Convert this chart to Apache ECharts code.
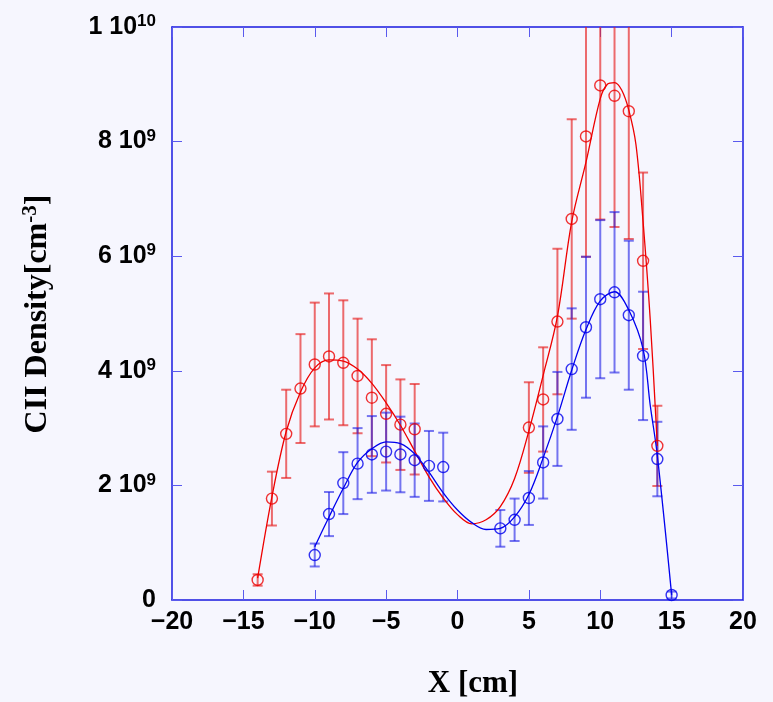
<!DOCTYPE html>
<html>
<head>
<meta charset="utf-8">
<script src="https://cdn.jsdelivr.net/npm/echarts@6/dist/echarts.min.js"></script>
<style>
html,body{margin:0;padding:0;background:#f6f6fe;}
#c{width:773px;height:702px;}
</style>
</head>
<body>
<div id="c"></div>
<script>
// Values in units of 1e9 cm^-3
var xTicks = [-20, -15, -10, -5, 0, 5, 10, 15, 20];
var yTicks = [0, 2, 4, 6, 8, 10];

var redX = [-14,-13,-12,-11,-10,-9,-8,-7,-6,-5,-4,-3, 5,6,7,8,9,10,11,12,13,14];
var redY = [0.35,1.77,2.90,3.69,4.11,4.25,4.14,3.91,3.53,3.25,3.06,2.98, 3.01,3.50,4.86,6.65,8.09,8.98,8.80,8.53,5.92,2.69];
var redErr = [0.10,0.47,0.77,0.95,1.08,1.10,1.09,1.00,1.02,0.85,0.79,0.79, 0.79,0.91,1.27,1.74,2.10,2.34,2.29,2.23,1.54,0.70];

var blueX = [-10,-9,-8,-7,-6,-5,-4,-3,-2,-1, 3,4,5,6,7,8,9,10,11,12,13,14,15];
var blueY = [0.785,1.50,2.04,2.38,2.54,2.59,2.54,2.44,2.34,2.32, 1.25,1.40,1.78,2.40,3.16,4.03,4.76,5.25,5.37,4.97,4.26,2.46,0.087];
var blueErr = [0.20,0.385,0.54,0.62,0.67,0.68,0.66,0.64,0.61,0.60, 0.32,0.37,0.47,0.63,0.82,1.06,1.23,1.38,1.40,1.30,1.12,0.65,0.06];

var redCurveX = [-14,-13,-12,-11,-10,-9,-8,-7,-6,-5,-4,-3,-2,-1,0,1,2,3,4,5,6,7,8,9,10,10.5,11,11.5,12,12.5,13,13.5,14];
var redCurveY = [0.38,1.80,2.94,3.63,4.05,4.19,4.17,4.03,3.78,3.44,3.05,2.60,2.15,1.78,1.49,1.33,1.40,1.63,2.12,2.95,3.92,4.95,6.60,7.64,8.75,9.00,9.03,8.90,8.55,7.95,6.60,4.90,2.69];

var blueCurveX = [-10,-9,-8,-7,-6,-5,-4,-3,-2,-1,0,1,2,3,4,5,6,7,8,9,10,11,12,13,13.5,14,15];
var blueCurveY = [0.93,1.45,1.95,2.40,2.64,2.76,2.73,2.55,2.23,1.87,1.57,1.35,1.23,1.25,1.45,1.84,2.48,3.20,4.01,4.72,5.22,5.38,5.06,4.38,3.40,2.52,0.09];

function zip(a, b) { return a.map(function (v, i) { return [v, b[i]]; }); }
function zip3(a, b, c) { return a.map(function (v, i) { return [v, b[i], c[i]]; }); }

var RED = '#ee0000', BLUE = '#0000ee';
var RED_EB = 'rgba(230,30,30,0.65)', BLUE_EB = 'rgba(30,30,230,0.6)';

function errRender(color) {
  return function (params, api) {
    var x = api.value(0), y = api.value(1), e = api.value(2);
    var lo = api.coord([x, y - e]);
    var hi = api.coord([x, y + e]);
    var w = 5;
    var st = { stroke: color, lineWidth: 2 };
    return {
      type: 'group',
      children: [
        { type: 'line', shape: { x1: lo[0], y1: lo[1], x2: hi[0], y2: hi[1] }, style: st },
        { type: 'line', shape: { x1: lo[0] - w, y1: lo[1], x2: lo[0] + w, y2: lo[1] }, style: st },
        { type: 'line', shape: { x1: hi[0] - w, y1: hi[1], x2: hi[0] + w, y2: hi[1] }, style: st }
      ]
    };
  };
}

var labelFont = 'Liberation Sans, Arial, sans-serif';
var axisColor = '#1a1ae0';
var tickColor = '#5a5aee';

function yFmt(v) {
  if (v === 0) return '{n|0}';
  if (v === 10) return '{n|1 10}{s|10}';
  return '{n|' + v + ' 10}{s|9}';
}
function xFmt(v) { return String(v).replace('-', '\u2212'); }

function axisBase(pos) {
  return {
    type: 'value', position: pos,
    axisLine: { show: true, onZero: false, lineStyle: { color: axisColor, width: 1.5 } },
    axisTick: { show: true, inside: true, length: 10, lineStyle: { color: tickColor } },
    splitLine: { show: false }
  };
}

var xb = axisBase('bottom');
xb.min = -20; xb.max = 20; xb.interval = 5;
xb.axisLabel = { formatter: xFmt, color: '#000', fontSize: 25, fontWeight: 'bold', fontFamily: labelFont, margin: 10 };
var xt = axisBase('top');
xt.min = -20; xt.max = 20; xt.interval = 5; xt.axisLabel = { show: false };

var yl = axisBase('left');
yl.min = 0; yl.max = 10; yl.interval = 2;
yl.axisLabel = {
  formatter: yFmt, margin: 16,
  rich: {
    n: { fontSize: 25, fontWeight: 'bold', color: '#000', fontFamily: labelFont, lineHeight: 28 },
    s: { fontSize: 17, fontWeight: 'bold', color: '#000', fontFamily: labelFont, verticalAlign: 'top', lineHeight: 13 }
  }
};
var yr = axisBase('right');
yr.min = 0; yr.max = 10; yr.interval = 2; yr.axisLabel = { show: false };

var chart = echarts.init(document.getElementById('c'));
chart.setOption({
  backgroundColor: '#f6f6fe',
  animation: false,
  grid: { left: 172, right: 30, top: 27, bottom: 102 },
  xAxis: [xb, xt],
  yAxis: [yl, yr],
  graphic: [{
    type: 'text', x: 38, y: 314, rotation: Math.PI / 2,
    style: {
      text: '{a|CII Density[cm}{s|-3}{a|]}',
      align: 'center', verticalAlign: 'middle',
      rich: {
        a: { fontSize: 32, fontWeight: 'bold', fontFamily: 'Liberation Serif, Times New Roman, serif', fill: '#000', lineHeight: 36 },
        s: { fontSize: 21, fontWeight: 'bold', fontFamily: 'Liberation Serif, Times New Roman, serif', fill: '#000', verticalAlign: 'top', lineHeight: 16 }
      }
    }
  }, {
    type: 'text', x: 473, y: 684,
    style: {
      text: 'X [cm]', align: 'center', verticalAlign: 'middle',
      fontSize: 31, fontWeight: 'bold', fontFamily: 'Liberation Serif, Times New Roman, serif', fill: '#000'
    }
  }],
  series: [
    { type: 'custom', name: 'redErr', data: zip3(redX, redY, redErr), renderItem: errRender(RED_EB), clip: true, z: 2 },
    { type: 'custom', name: 'blueErr', data: zip3(blueX, blueY, blueErr), renderItem: errRender(BLUE_EB), clip: true, z: 2 },
    { type: 'line', name: 'redCurve', data: zip(redCurveX, redCurveY), smooth: 0.35, showSymbol: false,
      lineStyle: { color: RED, width: 1.3 }, z: 3, silent: true },
    { type: 'line', name: 'blueCurve', data: zip(blueCurveX, blueCurveY), smooth: 0.35, showSymbol: false,
      lineStyle: { color: BLUE, width: 1.3 }, z: 3, silent: true },
    { type: 'scatter', name: 'red', data: zip(redX, redY), symbol: 'circle', symbolSize: 11,
      itemStyle: { color: 'rgba(0,0,0,0)', borderColor: RED, borderWidth: 1.4 }, z: 4 },
    { type: 'scatter', name: 'blue', data: zip(blueX, blueY), symbol: 'circle', symbolSize: 11,
      itemStyle: { color: 'rgba(0,0,0,0)', borderColor: BLUE, borderWidth: 1.4 }, z: 4 }
  ]
});
</script>
</body>
</html>
